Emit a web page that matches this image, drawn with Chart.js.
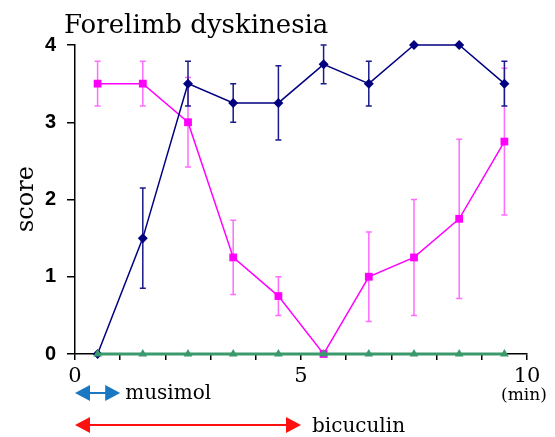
<!DOCTYPE html>
<html>
<head>
<meta charset="utf-8">
<script src="https://cdn.jsdelivr.net/npm/chart.js@4.4.1/dist/chart.umd.min.js"></script>
<style>
  html, body { margin: 0; padding: 0; background: #fff; }
  #wrap { width: 555px; height: 437px; }
</style>
</head>
<body>
<div id="wrap"><canvas id="chart" width="555" height="437"></canvas></div>
<script>
// ========== data ==========
const minutes = [0.5, 1.5, 2.5, 3.5, 4.5, 5.5, 6.5, 7.5, 8.5, 9.5]
const blueScore = [0, 1.5, 3.5, 3.25, 3.25, 3.75, 3.5, 4, 4, 3.5]
const blueErr = [0, 0.65, 0.29, 0.25, 0.48, 0.25, 0.29, 0, 0, 0.29]
const pinkScore = [3.5, 3.5, 3.0, 1.25, 0.75, 0, 1.0, 1.25, 1.75, 2.75]
const pinkErr = [0.29, 0.29, 0.58, 0.48, 0.25, 0, 0.58, 0.75, 1.03, 0.95]
const greenScore = [0, 0, 0, 0, 0, 0, 0, 0, 0, 0]
const xTickLabels = [0, 5, 10]
const musimolRange = [0, 1]
const bicuculinRange = [0, 5]

const serif = '"DejaVu Serif", "Liberation Serif", serif'

function toPoints(vals) {
    return vals.map((v, i) => ({ x: minutes[i], y: v }))
}

// ========== error bars ==========
const errorBars = {
    id: 'errorBars',
    beforeDatasetsDraw(chart) {
        const { ctx, scales: { x, y } } = chart
        const sets = [
            { vals: pinkScore, err: pinkErr, color: 'rgba(255,60,255,0.75)' },
            { vals: blueScore, err: blueErr, color: '#1a1a8c' }
        ]
        ctx.save()
        ctx.lineWidth = 1.5
        sets.forEach(s => {
            ctx.strokeStyle = s.color
            for (let i = 0; i < minutes.length; i++) {
                if (!s.err[i]) continue
                const px = x.getPixelForValue(minutes[i])
                const top = y.getPixelForValue(s.vals[i] + s.err[i])
                const bot = y.getPixelForValue(s.vals[i] - s.err[i])
                ctx.beginPath()
                ctx.moveTo(px, top); ctx.lineTo(px, bot)
                ctx.moveTo(px - 3, top); ctx.lineTo(px + 3, top)
                ctx.moveTo(px - 3, bot); ctx.lineTo(px + 3, bot)
                ctx.stroke()
            }
        })
        ctx.restore()
    }
}

// ========== title, labels and arrows ==========
function arrow(ctx, x1, x2, y, color) {
    const h = 15, w = 8
    ctx.strokeStyle = color
    ctx.fillStyle = color
    ctx.lineWidth = 2
    ctx.beginPath()
    ctx.moveTo(x1 + h - 2, y); ctx.lineTo(x2 - h + 2, y)
    ctx.stroke()
    ctx.beginPath()
    ctx.moveTo(x1, y); ctx.lineTo(x1 + h, y - w); ctx.lineTo(x1 + h, y + w); ctx.closePath()
    ctx.fill()
    ctx.beginPath()
    ctx.moveTo(x2, y); ctx.lineTo(x2 - h, y - w); ctx.lineTo(x2 - h, y + w); ctx.closePath()
    ctx.fill()
}

const extras = {
    id: 'extras',
    afterDraw(chart) {
        const { ctx, scales: { x } } = chart
        ctx.save()
        ctx.fillStyle = '#000'
        ctx.textBaseline = 'alphabetic'
        ctx.textAlign = 'left'
        ctx.font = '26px ' + serif
        ctx.fillText('Forelimb dyskinesia', 64, 33)

        ctx.save()
        ctx.translate(33, 199)
        ctx.rotate(-Math.PI / 2)
        ctx.textAlign = 'center'
        ctx.font = '24px ' + serif
        ctx.fillText('score', 0, 0)
        ctx.restore()

        ctx.textAlign = 'center'
        ctx.font = '17px ' + serif
        ctx.fillText('(min)', x.getPixelForValue(10) - 3, 400)

        const bx1 = x.getPixelForValue(musimolRange[0])
        const bx2 = x.getPixelForValue(musimolRange[1])
        arrow(ctx, bx1, bx2, 393, '#1a78c2')
        const rx1 = x.getPixelForValue(bicuculinRange[0])
        const rx2 = x.getPixelForValue(bicuculinRange[1])
        arrow(ctx, rx1, rx2, 425, '#ff1010')

        ctx.fillStyle = '#000'
        ctx.textAlign = 'left'
        ctx.font = '20px ' + serif
        ctx.fillText('musimol', bx2 + 5, 399)
        ctx.fillText('bicuculin', rx2 + 11, 432)
        ctx.restore()
    }
}

new Chart(document.getElementById('chart'), {
    type: 'line',
    data: {
        datasets: [
            {
                data: toPoints(greenScore),
                borderColor: '#3a9a6c',
                backgroundColor: '#3a9a6c',
                borderWidth: 3,
                pointStyle: 'triangle',
                pointRadius: 5,
                pointBorderWidth: 0,
                clip: false,
                order: 0
            },
            {
                data: toPoints(pinkScore),
                borderColor: '#ff00ff',
                backgroundColor: '#ff00ff',
                borderWidth: 1.5,
                pointStyle: 'rect',
                pointRadius: 5.5,
                pointBorderWidth: 0,
                clip: false,
                order: 2
            },
            {
                data: toPoints(blueScore),
                borderColor: '#000080',
                backgroundColor: '#000080',
                borderWidth: 1.5,
                pointStyle: 'rectRot',
                pointRadius: 5,
                pointBorderWidth: 0,
                clip: false,
                order: 1
            }
        ]
    },
    options: {
        responsive: false,
        animation: false,
        layout: { padding: { top: 45, right: 28, left: 0, bottom: 0 } },
        plugins: { legend: { display: false }, tooltip: { enabled: false } },
        scales: {
            x: {
                type: 'linear',
                min: 0,
                max: 10,
                afterFit(axis) { axis.height = 83 },
                border: { color: '#000', width: 1.5 },
                grid: { drawOnChartArea: false, color: '#000', tickLength: 6, lineWidth: 1.5 },
                ticks: {
                    stepSize: 1,
                    padding: 4,
                    maxRotation: 0,
                    autoSkip: false,
                    color: '#000',
                    font: { family: serif, size: 21 },
                    callback: v => xTickLabels.includes(v) ? String(v) : ''
                }
            },
            y: {
                min: 0,
                max: 4,
                afterFit(axis) { axis.width = 75 },
                border: { color: '#000', width: 1.5 },
                grid: { drawOnChartArea: false, color: '#000', tickLength: 8, lineWidth: 1.5 },
                ticks: {
                    stepSize: 1,
                    padding: 11,
                    color: '#000',
                    font: { family: '"Liberation Sans", Arial, sans-serif', size: 20, weight: 'bold' }
                }
            }
        }
    },
    plugins: [errorBars, extras]
})
</script>
</body>
</html>
